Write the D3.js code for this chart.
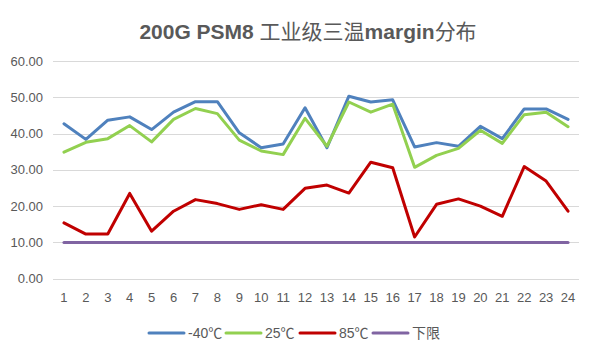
<!DOCTYPE html>
<html>
<head>
<meta charset="utf-8">
<script src="https://cdn.jsdelivr.net/npm/d3@7"></script>
<style>
  body { margin: 0; background: #fff; }
  text { font-family: "Liberation Sans", "Noto Sans CJK SC", sans-serif; fill: #595959; }
</style>
</head>
<body>
<div id="chart"></div>
<script>
// chart values
const categories = d3.range(1, 25).map(String);
const seriesNames = ['-40℃', '25℃', '85℃', '下限'];
const cold = [42.7, 38.4, 43.7, 44.6, 41.1, 45.9, 48.8, 48.8, 40.2, 36.1, 37.1, 47.1,
    36.1, 50.3, 48.7, 49.3, 36.3, 37.5, 36.5, 42.0, 38.6, 46.8, 46.8, 43.9];
const room = [34.9, 37.6, 38.6, 42.2, 37.7, 43.9, 46.9, 45.5, 38.2, 35.2, 34.2, 44.2,
    36.5, 48.7, 45.9, 48.1, 30.7, 34.0, 35.9, 40.9, 37.3, 45.2, 45.9, 41.9];
const hot = [15.4, 12.3, 12.3, 23.5, 13.1, 18.6, 21.8, 20.7, 19.1, 20.4, 19.1, 24.9,
    25.8, 23.6, 32.1, 30.6, 11.5, 20.5, 22.0, 20.0, 17.2, 30.9, 26.9, 18.6];
const limit = [10, 10, 10, 10, 10, 10, 10, 10, 10, 10, 10, 10,
    10, 10, 10, 10, 10, 10, 10, 10, 10, 10, 10, 10];
const yTicks = [0, 10, 20, 30, 40, 50, 60];
const colors = ['#4F81BD', '#92D050', '#C00000', '#8064A2'];

const width = 595;
const height = 353;
const margin = { top: 61, right: 16, bottom: 74, left: 53 };

const svg = d3.select('#chart')
    .append('svg')
    .attr('width', width)
    .attr('height', height);

const x = d3.scaleBand()
    .domain(categories)
    .range([margin.left, width - margin.right]);

const y = d3.scaleLinear()
    .domain([0, 60])
    .range([height - margin.bottom - 0.3, margin.top]);

// gridlines
svg.append('g')
    .selectAll('line')
    .data(yTicks)
    .enter()
    .append('line')
    .attr('x1', margin.left)
    .attr('x2', width - margin.right)
    .attr('y1', d => Math.round(y(d)) + 0.5)
    .attr('y2', d => Math.round(y(d)) + 0.5)
    .attr('stroke', '#d9d9d9')
    .attr('stroke-width', 1);

// y labels
svg.append('g')
    .selectAll('text')
    .data(yTicks)
    .enter()
    .append('text')
    .attr('x', 43)
    .attr('y', d => y(d) + 4.5)
    .attr('text-anchor', 'end')
    .style('font-size', '13px')
    .text(d => d.toFixed(2));

// x labels
svg.append('g')
    .selectAll('text')
    .data(categories)
    .enter()
    .append('text')
    .attr('x', d => x(d) + x.bandwidth() / 2)
    .attr('y', 302)
    .attr('text-anchor', 'middle')
    .style('font-size', '13px')
    .text(d => d);

const allSeries = [cold, room, hot, limit];

const line = d3.line()
    .x((d, i) => x(categories[i]) + x.bandwidth() / 2)
    .y(d => y(d));

svg.append('g')
    .selectAll('path')
    .data(allSeries)
    .enter()
    .append('path')
    .attr('d', line)
    .attr('fill', 'none')
    .attr('stroke', (d, i) => colors[i])
    .attr('stroke-width', 3)
    .attr('stroke-linejoin', 'round')
    .attr('stroke-linecap', 'round');

// title: latin bold, CJK regular like the original
const titleParts = [
    ['200G PSM8 ', 'bold'], ['工业级三温', 'normal'], ['margin', 'bold'], ['分布', 'normal']
];
svg.append('text')
    .attr('x', 308)
    .attr('y', 39)
    .attr('text-anchor', 'middle')
    .style('font-size', '21px')
    .selectAll('tspan')
    .data(titleParts)
    .enter()
    .append('tspan')
    .style('font-weight', d => d[1])
    .text(d => d[0]);

// legend
const legendX = [149, 226, 300, 373];
const legend = svg.append('g')
    .selectAll('g')
    .data(seriesNames)
    .enter()
    .append('g')
    .attr('transform', (d, i) => `translate(${legendX[i]},333)`);

legend.append('line')
    .attr('x1', 0)
    .attr('x2', 35)
    .attr('stroke', (d, i) => colors[i])
    .attr('stroke-width', 3)
    .attr('stroke-linecap', 'round');

legend.append('text')
    .attr('x', 39)
    .attr('y', 5)
    .style('font-size', '14px')
    .text(d => d);
</script>
</body>
</html>
